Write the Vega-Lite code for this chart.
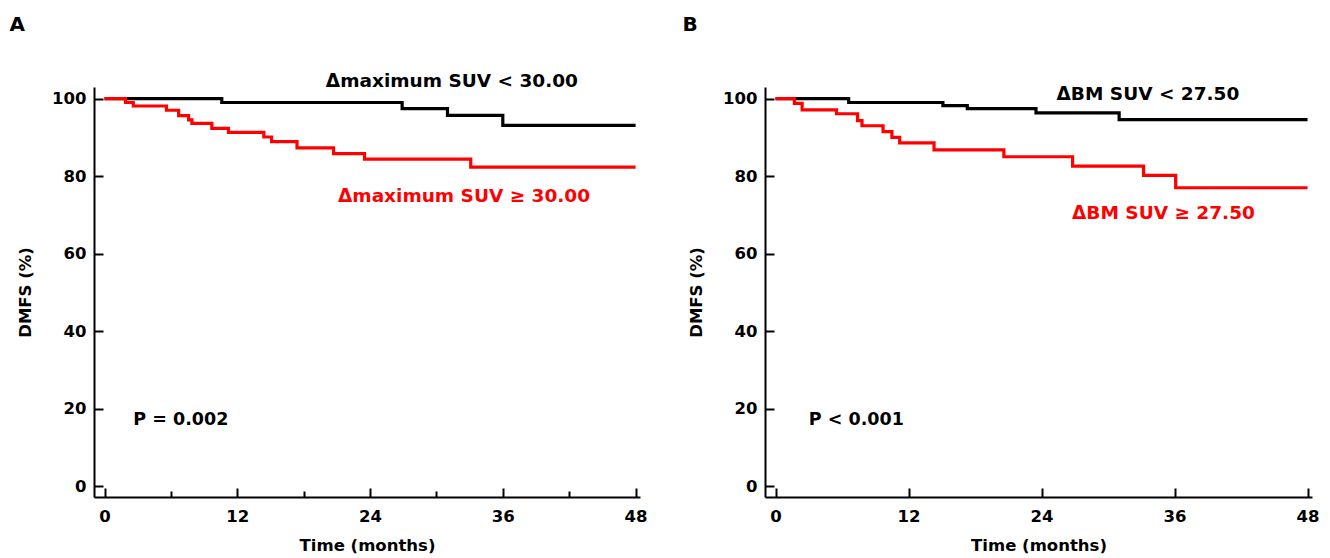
{
  "$schema": "https://vega.github.io/schema/vega-lite/v6.json",
  "background": "white",
  "padding": {"left": 9, "top": 14, "right": 10, "bottom": 2},
  "spacing": 34,
  "config": {
    "view": {"stroke": null},
    "axis": {
      "grid": false,
      "domainColor": "#000000",
      "domainWidth": 2,
      "tickColor": "#000000",
      "tickWidth": 2,
      "tickSize": -9,
      "labelFont": "DejaVu Sans",
      "labelFontWeight": "bold",
      "labelFontSize": 16.5,
      "labelColor": "#000000",
      "titleFont": "DejaVu Sans",
      "titleFontWeight": "bold",
      "titleFontSize": 16.5,
      "titleColor": "#000000"
    },
    "axisX": {"labelPadding": 20, "titlePadding": 13},
    "axisY": {"labelPadding": 17, "titlePadding": 18},
    "title": {"font": "DejaVu Sans", "fontWeight": "bold", "fontSize": 20, "color": "#000000"}
  },
  "datasets": {
    "km": [
      {"panel": "A", "group": "low", "t": 0, "s": 100},
      {"panel": "A", "group": "low", "t": 10.6, "s": 99.0},
      {"panel": "A", "group": "low", "t": 26.9, "s": 97.4},
      {"panel": "A", "group": "low", "t": 31.0, "s": 95.7},
      {"panel": "A", "group": "low", "t": 36.0, "s": 93.1},
      {"panel": "A", "group": "low", "t": 48, "s": 93.1},
      {"panel": "A", "group": "high", "t": 0, "s": 100},
      {"panel": "A", "group": "high", "t": 1.9, "s": 99.0},
      {"panel": "A", "group": "high", "t": 2.6, "s": 98.1},
      {"panel": "A", "group": "high", "t": 5.6, "s": 97.0},
      {"panel": "A", "group": "high", "t": 6.7, "s": 95.6},
      {"panel": "A", "group": "high", "t": 7.6, "s": 94.5},
      {"panel": "A", "group": "high", "t": 7.9, "s": 93.6},
      {"panel": "A", "group": "high", "t": 9.7, "s": 92.3},
      {"panel": "A", "group": "high", "t": 11.2, "s": 91.3},
      {"panel": "A", "group": "high", "t": 14.4, "s": 90.1},
      {"panel": "A", "group": "high", "t": 15.1, "s": 88.9},
      {"panel": "A", "group": "high", "t": 17.4, "s": 87.3},
      {"panel": "A", "group": "high", "t": 20.7, "s": 85.8},
      {"panel": "A", "group": "high", "t": 23.5, "s": 84.4},
      {"panel": "A", "group": "high", "t": 33.1, "s": 82.3},
      {"panel": "A", "group": "high", "t": 48, "s": 82.3},
      {"panel": "B", "group": "low", "t": 0, "s": 100},
      {"panel": "B", "group": "low", "t": 6.6, "s": 99.0},
      {"panel": "B", "group": "low", "t": 15.1, "s": 98.2},
      {"panel": "B", "group": "low", "t": 17.3, "s": 97.4},
      {"panel": "B", "group": "low", "t": 23.5, "s": 96.3},
      {"panel": "B", "group": "low", "t": 31.0, "s": 94.6},
      {"panel": "B", "group": "low", "t": 48, "s": 94.6},
      {"panel": "B", "group": "high", "t": 0, "s": 100},
      {"panel": "B", "group": "high", "t": 1.7, "s": 98.8},
      {"panel": "B", "group": "high", "t": 2.4, "s": 97.1},
      {"panel": "B", "group": "high", "t": 5.5, "s": 96.1},
      {"panel": "B", "group": "high", "t": 7.4, "s": 94.3},
      {"panel": "B", "group": "high", "t": 7.8, "s": 93.0},
      {"panel": "B", "group": "high", "t": 9.7, "s": 91.5},
      {"panel": "B", "group": "high", "t": 10.5, "s": 90.0},
      {"panel": "B", "group": "high", "t": 11.2, "s": 88.6},
      {"panel": "B", "group": "high", "t": 14.3, "s": 86.8},
      {"panel": "B", "group": "high", "t": 20.6, "s": 85.0},
      {"panel": "B", "group": "high", "t": 26.8, "s": 82.6},
      {"panel": "B", "group": "high", "t": 33.2, "s": 80.2},
      {"panel": "B", "group": "high", "t": 36.1, "s": 77.0},
      {"panel": "B", "group": "high", "t": 48, "s": 77.0}
    ]
  },
  "hconcat": [
    {
      "title": {"text": "A", "anchor": "start", "frame": "bounds", "dx": -8, "offset": 37},
      "width": 546,
      "height": 410,
      "layer": [
        {
          "data": {"name": "km"},
          "transform": [{"filter": "datum.panel === 'A'"}],
          "mark": {"type": "line", "interpolate": "step-after", "strokeWidth": 3.2},
          "encoding": {
            "x": {
              "field": "t", "type": "quantitative",
              "scale": {"domain": [-0.95, 48.4], "nice": false, "zero": false},
              "axis": {
                "title": "Time (months)",
                "values": [0, 6, 12, 18, 24, 30, 36, 42, 48],
                "labelExpr": "datum.value % 12 === 0 ? datum.label : ''",
                "tickSize": {"condition": {"test": "datum.value % 12 === 0", "value": -9}, "value": -6}
              }
            },
            "y": {
              "field": "s", "type": "quantitative",
              "scale": {"domain": [-2.8, 103], "nice": false, "zero": false},
              "axis": {"title": "DMFS (%)", "values": [0, 20, 40, 60, 80, 100]}
            },
            "color": {
              "field": "group", "type": "nominal",
              "scale": {"domain": ["low", "high"], "range": ["#000000", "#ff0000"]},
              "sort": ["low", "high"],
              "legend": null
            },
            "order": {"field": "t"}
          }
        },
        {
          "data": {"values": [{"label": "Δmaximum SUV < 30.00"}]},
          "mark": {"type": "text", "font": "DejaVu Sans", "fontWeight": "bold", "fontSize": 18.5, "color": "#000000", "align": "center", "baseline": "middle"},
          "encoding": {"x": {"datum": 31.4}, "y": {"datum": 104.6}, "text": {"field": "label"}}
        },
        {
          "data": {"values": [{"label": "Δmaximum SUV ≥ 30.00"}]},
          "mark": {"type": "text", "font": "DejaVu Sans", "fontWeight": "bold", "fontSize": 18.5, "color": "#ff0000", "align": "center", "baseline": "middle"},
          "encoding": {"x": {"datum": 32.5}, "y": {"datum": 75.0}, "text": {"field": "label"}}
        },
        {
          "data": {"values": [{"label": "P = 0.002"}]},
          "mark": {"type": "text", "font": "DejaVu Sans", "fontWeight": "bold", "fontSize": 17.5, "color": "#000000", "align": "left", "baseline": "middle"},
          "encoding": {"x": {"datum": 2.6}, "y": {"datum": 17.1}, "text": {"field": "label"}}
        }
      ]
    },
    {
      "title": {"text": "B", "anchor": "start", "frame": "bounds", "dx": -6, "offset": 50},
      "width": 547,
      "height": 410,
      "layer": [
        {
          "data": {"name": "km"},
          "transform": [{"filter": "datum.panel === 'B'"}],
          "mark": {"type": "line", "interpolate": "step-after", "strokeWidth": 3.2},
          "encoding": {
            "x": {
              "field": "t", "type": "quantitative",
              "scale": {"domain": [-0.95, 48.4], "nice": false, "zero": false},
              "axis": {"title": "Time (months)", "values": [0, 12, 24, 36, 48]}
            },
            "y": {
              "field": "s", "type": "quantitative",
              "scale": {"domain": [-2.8, 103], "nice": false, "zero": false},
              "axis": {"title": "DMFS (%)", "values": [0, 20, 40, 60, 80, 100]}
            },
            "color": {
              "field": "group", "type": "nominal",
              "scale": {"domain": ["low", "high"], "range": ["#000000", "#ff0000"]},
              "sort": ["low", "high"],
              "legend": null
            },
            "order": {"field": "t"}
          }
        },
        {
          "data": {"values": [{"label": "ΔBM SUV < 27.50"}]},
          "mark": {"type": "text", "font": "DejaVu Sans", "fontWeight": "bold", "fontSize": 18.5, "color": "#000000", "align": "center", "baseline": "middle"},
          "encoding": {"x": {"datum": 33.6}, "y": {"datum": 101.2}, "text": {"field": "label"}}
        },
        {
          "data": {"values": [{"label": "ΔBM SUV ≥ 27.50"}]},
          "mark": {"type": "text", "font": "DejaVu Sans", "fontWeight": "bold", "fontSize": 18.5, "color": "#ff0000", "align": "center", "baseline": "middle"},
          "encoding": {"x": {"datum": 35.0}, "y": {"datum": 70.6}, "text": {"field": "label"}}
        },
        {
          "data": {"values": [{"label": "P < 0.001"}]},
          "mark": {"type": "text", "font": "DejaVu Sans", "fontWeight": "bold", "fontSize": 17.5, "color": "#000000", "align": "left", "baseline": "middle"},
          "encoding": {"x": {"datum": 3.0}, "y": {"datum": 17.1}, "text": {"field": "label"}}
        }
      ]
    }
  ]
}
